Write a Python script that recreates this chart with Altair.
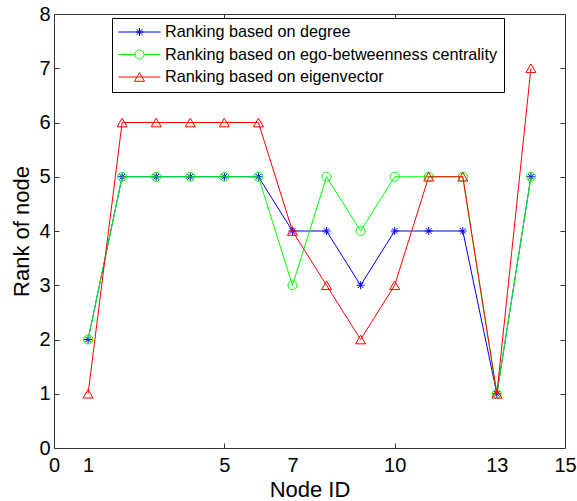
import math
import altair as alt
import pandas as pd

# ---- data ----
nodes = list(range(1, 15))
rank_degree = [2, 5, 5, 5, 5, 5, 4, 4, 3, 4, 4, 4, 1, 5]
rank_ego = [2, 5, 5, 5, 5, 5, 3, 5, 4, 5, 5, 5, 1, 5]
rank_eigen = [1, 6, 6, 6, 6, 6, 4, 3, 2, 3, 5, 5, 1, 7]
series_names = [
    "Ranking based on degree",
    "Ranking based on ego-betweenness centrality",
    "Ranking based on eigenvector",
]
series_colors = ["#0000FF", "#00FF00", "#FF0000"]
x_tick_labels = [0, 1, 5, 7, 10, 13, 15]
x_minor_ticks = [5, 10]
y_tick_labels = [0, 1, 2, 3, 4, 5, 6, 7, 8]
y_inner_ticks = [1, 2, 3, 4, 5, 6, 7]

rows = []
for name, vals in zip(series_names, [rank_degree, rank_ego, rank_eigen]):
    for n, v in zip(nodes, vals):
        rows.append({"node": n, "rank": v, "series": name})
df = pd.DataFrame(rows)

FONT = "Liberation Sans"
W, H = 511, 434
FRAME = "#333333"

star = "M-1,0L1,0M0,-1L0,1M-0.7,-0.7L0.7,0.7M-0.7,0.7L0.7,-0.7"
marker_shapes = [star, "circle", "triangle-up"]
marker_sizes = [64, 81, 100]

# legend glyphs: short line with the marker in the middle (symbol geometry only)
r_c = 0.214
circle_pts = ["%.3f,%.3f" % (r_c * math.cos(2 * math.pi * k / 20), r_c * math.sin(2 * math.pi * k / 20)) for k in range(20)]
circle_path = "M" + "L".join(circle_pts) + "Z"
legend_shapes = [
    "M-1,0L1,0M-0.19,0L0.19,0M0,-0.19L0,0.19M-0.135,-0.135L0.135,0.135M-0.135,0.135L0.135,-0.135",
    "M-1,0L-0.214,0M0.214,0L1,0" + circle_path,
    "M-1,0L1,0M0,-0.206L-0.238,0.206L0.238,0.206Z",
]

xscale = alt.Scale(domain=[0, 15], nice=False, zero=False)
yscale = alt.Scale(domain=[0, 8], nice=False, zero=False)

tick_cond_x = {"condition": {"test": "datum.value == 5 || datum.value == 10", "value": 1}, "value": 0}

x_main_axis = alt.Axis(
    orient="bottom", values=x_tick_labels, offset=-5, tickSize=5,
    tickColor=FRAME, tickOpacity=tick_cond_x, domain=False, grid=False,
    labelFont=FONT, labelFontSize=20, labelColor="black", labelPadding=7,
    labelFlush=False, labelOverlap=False,
    title="Node ID", titleFont=FONT, titleFontSize=22, titleFontWeight="normal",
    titleColor="black", titlePadding=4,
)
y_main_axis = alt.Axis(
    orient="left", values=y_tick_labels, offset=-5, tickSize=5,
    tickColor=FRAME, domain=False, grid=False,
    labelFont=FONT, labelFontSize=20, labelColor="black", labelPadding=4,
    labelFlush=False, labelOverlap=False,
    title="Rank of node", titleFont=FONT, titleFontSize=22, titleFontWeight="normal",
    titleColor="black", titlePadding=5,
)
x_top_axis = alt.Axis(orient="top", values=x_minor_ticks, offset=-5, tickSize=5, tickColor=FRAME,
                      labels=False, domain=False, grid=False, title=None)
y_right_axis = alt.Axis(orient="right", values=y_inner_ticks, offset=-5, tickSize=5, tickColor=FRAME,
                        labels=False, domain=False, grid=False, title=None)

base = alt.Chart(df)

layers = []
for i, name in enumerate(series_names):
    sub = base.transform_filter(alt.datum.series == name)
    ln = sub.mark_line(strokeWidth=1, color=series_colors[i]).encode(
        x=alt.X("node:Q", scale=xscale, axis=x_main_axis if i == 0 else None),
        y=alt.Y("rank:Q", scale=yscale, axis=y_main_axis if i == 0 else None),
    )
    pt = sub.mark_point(
        shape=marker_shapes[i], size=marker_sizes[i], color=series_colors[i],
        filled=False, strokeWidth=1, opacity=1,
    ).encode(
        x=alt.X("node:Q", scale=xscale, axis=x_top_axis if i == 0 else None),
        y=alt.Y("rank:Q", scale=yscale, axis=y_right_axis if i == 0 else None),
    )
    layers += [ln, pt]

leg = alt.Legend(
    orient="none", legendX=58, legendY=4, padding=6,
    strokeColor="black", fillColor="white",
    labelFont=FONT, labelFontSize=16.2, labelColor="black", labelLimit=500,
    labelOffset=4, rowPadding=5.5, symbolSize=1764, symbolStrokeWidth=1,
    symbolOpacity=1, clipHeight=16,
)
legend_layer = base.mark_point(
    filled=False, strokeWidth=1, size=1764, opacity=0
).encode(
    x=alt.X("node:Q", scale=xscale, axis=None),
    y=alt.Y("rank:Q", scale=yscale, axis=None),
    color=alt.Color("series:N", scale=alt.Scale(domain=series_names, range=series_colors), legend=leg, title=None),
    shape=alt.Shape("series:N", scale=alt.Scale(domain=series_names, range=legend_shapes), legend=leg, title=None),
)
layers.append(legend_layer)

chart = alt.layer(*layers).resolve_axis(
    x="independent", y="independent"
).properties(
    width=W, height=H, autosize="none",
    padding={"left": 54, "top": 14, "right": 12, "bottom": 53},
    background="white",
).configure_view(stroke=FRAME, strokeWidth=1)

chart.save("out.html", embed_options={"renderer": "svg", "actions": False})
